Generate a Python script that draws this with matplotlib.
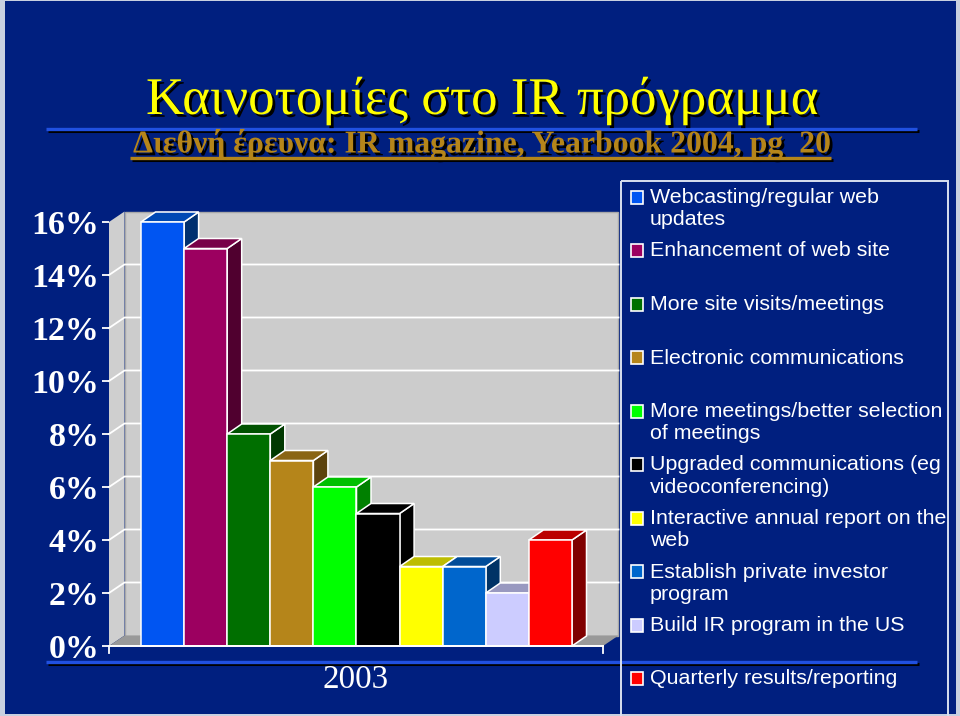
import matplotlib
matplotlib.use("Agg")
import matplotlib.pyplot as plt
from matplotlib.patches import Rectangle
import matplotlib.patheffects as pe

title = "Καινοτομίες στο IR πρόγραμμα"
subtitle = "Διεθνή έρευνα: IR magazine, Yearbook 2004, pg  20"
categories = ["Webcasting/regular web\nupdates", "Enhancement of web site", "More site visits/meetings",
              "Electronic communications", "More meetings/better selection\nof meetings",
              "Upgraded communications (eg\nvideoconferencing)", "Interactive annual report on the\nweb",
              "Establish private investor\nprogram", "Build IR program in the US", "Quarterly results/reporting"]
values = [16, 15, 8, 7, 6, 5, 3, 3, 2, 4]
colors = ["#0055F2", "#9C0060", "#006F00", "#B5851A", "#00FF00", "#000000", "#FFFF00", "#0066CC", "#CCCCFF", "#FF0000"]
tops = ["#0048B4", "#780048", "#005200", "#8A6514", "#00C000", "#000000", "#BDBD00", "#004C99", "#9999C0", "#BB0000"]
sides = ["#003070", "#50002F", "#003800", "#5C430D", "#008000", "#000000", "#808000", "#003366", "#666680", "#800000"]
yticks = [0, 2, 4, 6, 8, 10, 12, 14, 16]
year = "2003"

BG = "#001F7F"
W, H = 960, 716
fig = plt.figure(figsize=(W / 100, H / 100), dpi=100, facecolor="#C8D0E0")

deco = fig.add_axes([0, 0, 1, 1], zorder=0)
deco.set_xlim(0, W); deco.set_ylim(H, 0); deco.axis("off")
deco.add_patch(Rectangle((5, 1), 951, H - 3, fc=BG, ec="none"))

for y in (129, 662):
    deco.plot([48, 919], [y + 2, y + 2], color="black", lw=2.2, solid_capstyle="butt", zorder=2)
    deco.plot([46, 917], [y, y], color="#2050E0", lw=2.4, solid_capstyle="butt", zorder=3)

deco.text(482, 101, title, color="#FFFF00", family="Liberation Serif", fontsize=38.1, ha="center", va="center", zorder=5,
          path_effects=[pe.withSimplePatchShadow(offset=(2, -2), shadow_rgbFace="black", alpha=1)])
deco.text(482, 144, subtitle, color="#B5851A", family="Liberation Serif", weight="bold", fontsize=22.9, ha="center", va="center", zorder=5,
          path_effects=[pe.withSimplePatchShadow(offset=(2, -2), shadow_rgbFace="black", alpha=1)])
deco.plot([132, 833], [160, 160], color="black", lw=2.2, solid_capstyle="butt", zorder=4)
deco.plot([130, 831], [158, 158], color="#B5851A", lw=2.4, solid_capstyle="butt", zorder=5)
deco.text(356, 680, year, color="white", family="Liberation Serif", fontsize=23.8, ha="center", va="center", zorder=5)

# legend
deco.add_patch(Rectangle((620.5, 181), 327.5, 560, fc="none", ec="#D8E0F0", lw=1.4, zorder=4))
for i, (lab, c) in enumerate(zip(categories, colors)):
    ly = 197 + i * 53.5
    deco.add_patch(Rectangle((630.5, ly - 6.5), 12.5, 13, fc=c, ec="white", lw=1.2, zorder=5))
    deco.text(650, ly - 9, lab, color="white", family="Liberation Sans", fontsize=15.4, ha="left", va="top",
              linespacing=1.23, zorder=5)

# chart
L, R, Y0, Y16 = 109, 603, 646, 222
ax = fig.add_axes([L / W, 1 - Y0 / H, (R - L) / W, (Y0 - Y16) / H], zorder=1)
ax.patch.set_alpha(0)
bw_px = 43.1
ax.set_xlim(-32 / bw_px, 10 + 31 / bw_px)
ax.set_ylim(0, 16)
x0, x1 = ax.get_xlim()
wx, wy = 15.5 / bw_px, 10.5 / 26.5      # wall depth
bx, by = 14.5 / bw_px, 10.0 / 26.5      # bar depth

ax.fill([x0, x0 + wx, x0 + wx, x0], [0, wy, 16 + wy, 16], fc="#CFCFCF", ec="none", clip_on=False, zorder=1)
ax.fill([x0 + wx, x1 + wx, x1 + wx, x0 + wx], [wy, wy, 16 + wy, 16 + wy], fc="#CCCCCC", ec="#A8A8A8", lw=1, clip_on=False, zorder=1)
ax.fill([x0, x1, x1 + wx, x0 + wx], [0, 0, wy, wy], fc="#999999", ec="none", clip_on=False, zorder=1.5)

for t in yticks[1:-1]:
    ax.plot([x0, x0 + wx, x1 + wx], [t, t + wy, t + wy], color="white", lw=1.3, clip_on=False, zorder=2)

for i, (v, c, tc, sc) in enumerate(zip(values, colors, tops, sides)):
    z = 3 + i * 0.01
    ax.fill([i + 1, i + 1 + bx, i + 1 + bx, i + 1], [0, by, v + by, v], fc=sc, ec="white", lw=1.1, clip_on=False, zorder=z)
    ax.fill([i, i + 1, i + 1 + bx, i + bx], [v, v, v + by, v + by], fc=tc, ec="white", lw=1.1, clip_on=False, zorder=z)
    ax.bar(i, v, width=1, align="edge", color=c, edgecolor="white", lw=1.1, clip_on=False, zorder=z)

for s in ("top", "right", "bottom", "left"):
    ax.spines[s].set_visible(False)
ax.plot([x0, x0], [-0.26, 0], color="white", lw=1.3, clip_on=False, zorder=6)
ax.plot([x1, x1], [-0.26, 0], color="white", lw=1.3, clip_on=False, zorder=6)
ax.plot([x0, x1], [0, 0], color="white", lw=1.4, clip_on=False, zorder=6)

ax.set_xticks([])
ax.set_yticks(yticks)
ax.set_yticklabels([f"{t}%" for t in yticks], family="Liberation Serif", weight="bold", fontsize=24.4, color="white")
ax.tick_params(axis="y", length=5, width=1.3, color="white", pad=2)

fig.savefig("out.png", dpi=100, facecolor=fig.get_facecolor())
